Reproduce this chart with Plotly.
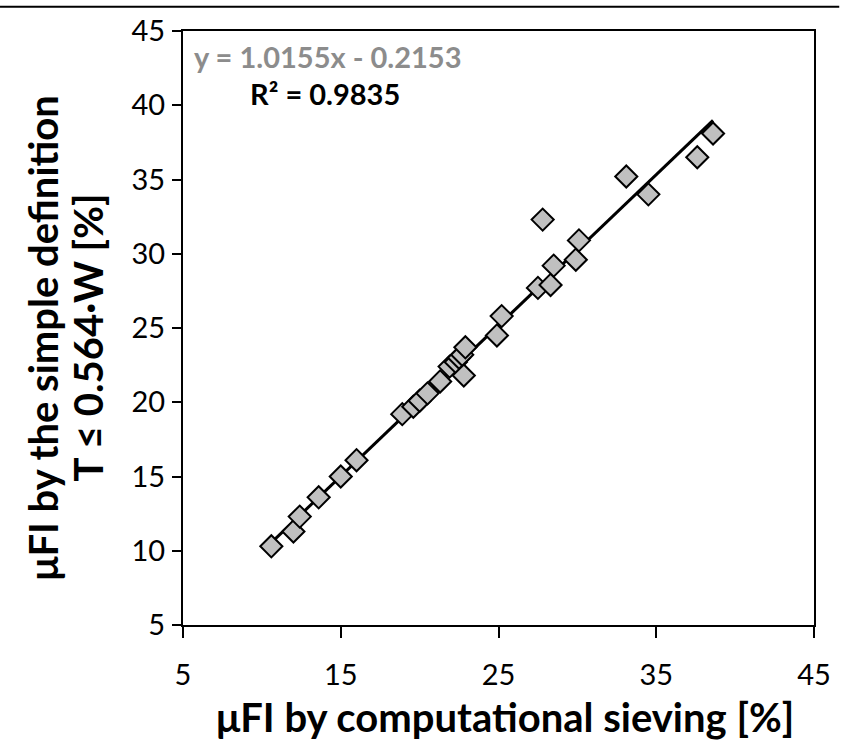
import plotly.graph_objects as go

# Data
x_sieving = [10.6, 12.0, 12.4, 13.6, 15.0, 16.0, 18.9, 19.6, 20.0, 20.5, 21.3, 21.9, 22.3,
             22.8, 22.5, 22.7, 22.9, 24.9, 25.2, 27.5, 27.8, 28.3, 28.5, 29.9, 30.1,
             33.1, 34.5, 37.6, 38.6]
y_simple = [10.3, 11.3, 12.3, 13.6, 15.0, 16.1, 19.2, 19.7, 20.1, 20.6, 21.4, 22.4, 22.7,
            21.8, 23.0, 23.2, 23.7, 24.5, 25.8, 27.7, 32.3, 27.9, 29.2, 29.6, 30.9,
            35.2, 34.0, 36.5, 38.1]

slope = 1.0155
intercept = -0.2153
r_squared = 0.9835

tick_vals_x = [5, 15, 25, 35, 45]
tick_vals_y = [5, 10, 15, 20, 25, 30, 35, 40, 45]

x_title = "μFI by computational sieving [%]"
y_title_1 = "μFI by the simple definition"
y_title_2 = "T ≤ 0.564·W [%]"

FONT = "Lato"

x_min, x_max = min(x_sieving), max(x_sieving)
line_x = [x_min, x_max]
line_y = [slope * v + intercept for v in line_x]

fig = go.Figure()
fig.add_trace(go.Scatter(
    x=line_x, y=line_y, mode="lines",
    line=dict(color="black", width=3), showlegend=False, hoverinfo="skip"))
fig.add_trace(go.Scatter(
    x=x_sieving, y=y_simple, mode="markers",
    marker=dict(symbol="diamond", size=17, color="#c0c0c0",
                line=dict(color="black", width=2)),
    showlegend=False))

fig.update_layout(
    width=843, height=742,
    margin=dict(l=183, r=24, t=26, b=117),
    paper_bgcolor="white", plot_bgcolor="white",
    font=dict(family=FONT, color="black"),
    xaxis=dict(range=[5, 45], tickvals=tick_vals_x, showgrid=False, zeroline=False,
               showline=True, linecolor="black", linewidth=2, mirror=True,
               ticks="outside", ticklen=11, tickwidth=2, tickcolor="black",
               ticklabelstandoff=12,
               tickfont=dict(size=29, family=FONT)),
    yaxis=dict(range=[5, 45], tickvals=tick_vals_y, showgrid=False, zeroline=False,
               showline=True, linecolor="black", linewidth=2, mirror=True,
               ticks="outside", ticklen=9, tickwidth=2, tickcolor="black",
               ticklabelstandoff=1,
               tickfont=dict(size=29, family=FONT)),
)

# axis titles
fig.add_annotation(xref="paper", yref="paper", x=0.511, y=-0.155,
                   xanchor="center", yanchor="middle", showarrow=False,
                   text="<b>%s</b>" % x_title, font=dict(size=40, family=FONT, color="black"))
fig.add_annotation(xref="paper", yref="paper", x=-0.223, y=0.484,
                   xanchor="center", yanchor="middle", showarrow=False, textangle=-90,
                   text="<b>%s</b>" % y_title_1, font=dict(size=40, family=FONT, color="black"))
fig.add_annotation(xref="paper", yref="paper", x=-0.152, y=0.484,
                   xanchor="center", yanchor="middle", showarrow=False, textangle=-90,
                   text="<b>%s</b>" % y_title_2, font=dict(size=40, family=FONT, color="black"))

# trendline equation and R²
fig.add_annotation(
    xref="paper", yref="paper", x=0.014, y=0.957, xanchor="left", yanchor="middle",
    text="<b>y = %.4fx - %.4f</b>" % (slope, -intercept), showarrow=False,
    font=dict(size=29, family=FONT, color="#8c8c8c"))
fig.add_annotation(
    xref="paper", yref="paper", x=0.225, y=0.895, xanchor="center", yanchor="middle",
    text="<b>R² = %.4f</b>" % r_squared, showarrow=False,
    font=dict(size=29, family=FONT, color="black"))

# thin frame line at the very top of the picture
fig.add_shape(type="line", xref="paper", yref="paper",
              x0=-0.29, x1=1.04, y0=1.0409, y1=1.0409,
              line=dict(color="black", width=2))

fig.write_html("out.html", config={"displayModeBar": False},
               post_script="document.body.style.margin='0';")
